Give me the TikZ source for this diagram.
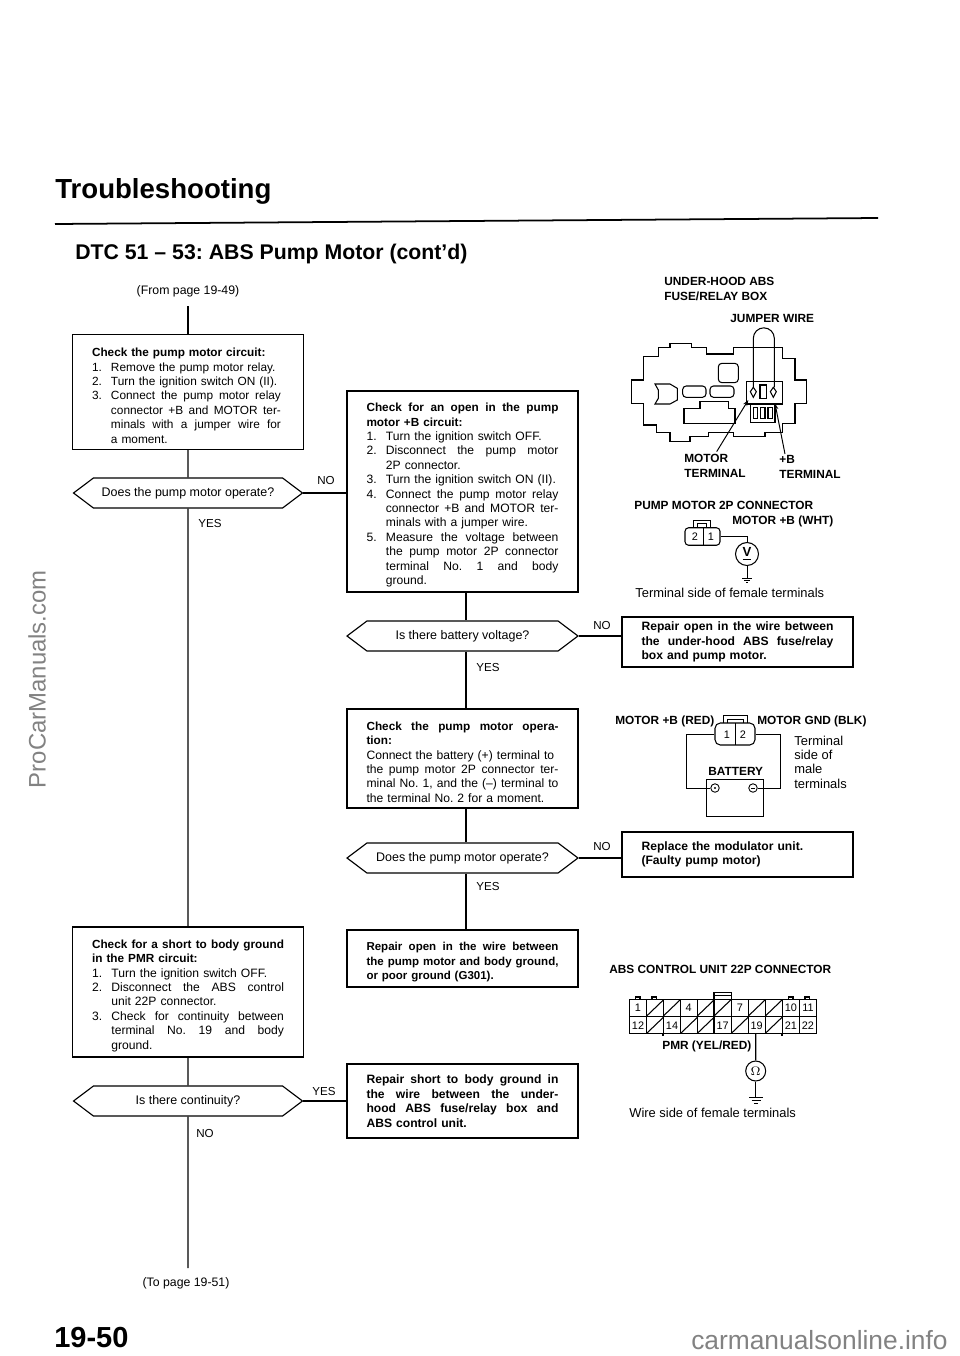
\documentclass[tikz,border=0pt]{standalone}
\usepackage{fontspec}
\setmainfont{Liberation Sans}
\usetikzlibrary{shapes.symbols, arrows.meta, positioning, calc}
\definecolor{markgray}{RGB}{130,130,130}
\newcommand{\hd}[1]{{\fontsize{6.7}{8.2}\selectfont\bfseries #1}}
\newcommand{\fillsp}{\spaceskip=.278em plus 1fil\relax}
\newcommand{\jl}[1]{\makebox[3.84cm][s]{\fillsp #1}}
\newcommand{\ns}[1]{\makebox[1.6em][l]{#1}}
\newcommand{\jn}[2]{\ns{#1}\makebox[\dimexpr3.84cm-1.6em][s]{\fillsp #2}}
\newcommand{\ji}[1]{\hspace*{1.6em}\makebox[\dimexpr3.84cm-1.6em][s]{\fillsp #1}}
\newcommand{\jk}[1]{\makebox[3.4cm][s]{\fillsp #1}}
\newcommand{\ii}{\hspace*{1.6em}}

\begin{document}
\frenchspacing
\begin{tikzpicture}[x=0.02cm, y=-0.02cm,
    bodytext/.style={font=\fontsize{6.9}{8.2}\selectfont},
    stepbox/.style={rectangle, draw, line width=0.7pt, text width=3.84cm, inner xsep=0.39cm, inner ysep=0pt, align=left, bodytext},
    fixbox/.style={stepbox, font=\fontsize{6.9}{8.3}\selectfont\bfseries},
    lowtext/.style={execute at begin node={\rule{0pt}{9pt}}},
    askbox/.style={signal, signal to=east and west, signal pointer angle=74, draw, line width=0.65pt, inner sep=0pt, minimum width=4.58cm, minimum height=0.6cm, font=\fontsize{7.1}{8.2}\selectfont},
    answer/.style={font=\fontsize{6.6}{8}\selectfont, inner sep=0pt, anchor=west},
    part/.style={font=\fontsize{6.75}{8.4}\selectfont\bfseries, inner sep=0pt, anchor=west, align=left},
    note/.style={font=\fontsize{7.35}{8.2}\selectfont, inner sep=0pt, anchor=west, align=left},
    pin/.style={font=\fontsize{6.2}{7}\selectfont, inner sep=0pt},
    meter/.style={circle, draw, line width=0.6pt, inner sep=0pt, minimum size=0.46cm, font=\fontsize{7.5}{8}\selectfont\bfseries},
    flow/.style={line width=0.6pt},
    wire/.style={line width=0.55pt},
    lead/.style={line width=0.55pt, -{Stealth[length=3.5pt, width=2.5pt]}},
    pagemark/.style={markgray, inner sep=0pt, font=\fontsize{15}{16}\selectfont}
]
    \useasboundingbox (0,0) rectangle (960,1356);

    % Heading
    \node[inner sep=0pt, anchor=west, font=\fontsize{15.7}{17}\selectfont\bfseries] (title) at (55,191) {Troubleshooting};
    \draw[line width=1pt] (55,224) -- (878,218);
    \node[inner sep=0pt, anchor=west, font=\fontsize{12.1}{14}\selectfont\bfseries] (dtc) at (75,254) {DTC 51 -- 53: ABS Pump Motor (cont'd)};
    \node[font=\fontsize{7}{8}\selectfont, inner sep=0pt] (frompage) at (188,291) {(From page 19-49)};
    \coordinate (fromend) at (188,306);

    % Left column
    \node[stepbox, lowtext, minimum height=2.3cm, font=\fontsize{6.75}{8.2}\selectfont] (pumpcheck) at (188,392) {%
        \hd{Check the pump motor circuit:}\\
        \ns{1.}Remove the pump motor relay.\\
        \ns{2.}Turn the ignition switch ON (II).\\
        \ns{3.}\jk{Connect the pump motor relay}\\
        \ii\jk{connector +B and MOTOR ter-}\\
        \ii\jk{minals with a jumper wire for}\\
        \ii a moment.};
    \node[askbox] (pumpask) at (188,493) {Does the pump motor operate?};
    \node[stepbox, lowtext, minimum height=2.6cm] (shortcheck) at (188,992) {%
        \jl{\hd{Check for a short to body ground}}\\
        \hd{in the PMR circuit:}\\
        \ns{1.}Turn the ignition switch OFF.\\
        \jn{2.}{Disconnect the ABS control}\\
        \ii unit 22P connector.\\
        \jn{3.}{Check for continuity between}\\
        \ji{terminal No. 19 and body}\\
        \ii ground.};
    \node[askbox] (contask) at (188,1101) {Is there continuity?};
    \coordinate (toend) at (188,1268);
    \node[font=\fontsize{7}{8}\selectfont, inner sep=0pt] (topage) at (186,1283) {(To page 19-51)};

    % Middle column
    \node[stepbox, lowtext, minimum height=4.02cm] (opencheck) at (462.5,491.5) {%
        \jl{\hd{Check for an open in the pump}}\\
        \hd{motor +B circuit:}\\
        \ns{1.}Turn the ignition switch OFF.\\
        \jn{2.}{Disconnect the pump motor}\\
        \ii 2P connector.\\
        \ns{3.}Turn the ignition switch ON (II).\\
        \jn{4.}{Connect the pump motor relay}\\
        \ji{connector +B and MOTOR ter-}\\
        \ii minals with a jumper wire.\\
        \jn{5.}{Measure the voltage between}\\
        \ji{the pump motor 2P connector}\\
        \ji{terminal No. 1 and body}\\
        \ii ground.};
    \node[askbox, minimum width=4.62cm] (voltask) at (462.5,636) {Is there battery voltage?};
    \node[stepbox, lowtext, minimum height=1.98cm] (opercheck) at (462.5,758.5) {%
        \jl{\hd{Check the pump motor opera-}}\\
        \hd{tion:}\\
        Connect the battery (+) terminal to\\
        \jl{the pump motor 2P connector ter-}\\
        \jl{minal No. 1, and the (--) terminal to}\\
        the terminal No. 2 for a moment.};
    \node[askbox, minimum width=4.62cm] (operask) at (462.5,858) {Does the pump motor operate?};
    \node[fixbox, lowtext, minimum height=1.14cm, font=\fontsize{6.55}{8.3}\selectfont\bfseries] (openrepair) at (462.5,958.5) {%
        \jl{Repair open in the wire between}\\
        \jl{the pump motor and body ground,}\\
        or poor ground (G301).};
    \node[fixbox, minimum height=1.48cm] (shortrepair) at (462.5,1101) {%
        \jl{Repair short to body ground in}\\
        \jl{the wire between the under-}\\
        \jl{hood ABS fuse/relay box and}\\
        ABS control unit.};

    % Right column
    \node[fixbox, minimum height=1cm] (wirerepair) at (737.5,642) {%
        \jl{Repair open in the wire between}\\
        \jl{the under-hood ABS fuse/relay}\\
        box and pump motor.};
    \node[fixbox, minimum height=0.9cm] (replace) at (737.5,854.5) {%
        Replace the modulator unit.\\
        (Faulty pump motor)};

    % Flow
    \draw[flow] (fromend) -- (pumpcheck);
    \draw[flow] (pumpcheck) -- (pumpask);
    \draw[flow] (pumpask) -- (shortcheck);
    \draw[flow] (shortcheck) -- (contask);
    \draw[flow] (contask) -- (toend);
    \draw[flow] (pumpask.east) -- (opencheck.west |- pumpask.east);
    \draw[flow] (contask.east) -- (shortrepair.west |- contask.east);
    \coordinate (midline) at (466,0);
    \draw[flow] (opencheck.south -| midline) -- (voltask.north -| midline);
    \draw[flow] (voltask.south -| midline) -- (opercheck.north -| midline);
    \draw[flow] (opercheck.south -| midline) -- (operask.north -| midline);
    \draw[flow] (operask.south -| midline) -- (openrepair.north -| midline);
    \draw[flow] (voltask.east) -- (wirerepair.west |- voltask.east);
    \draw[flow] (operask.east) -- (replace.west |- operask.east);

    % Answers
    \node[answer] (no1) at (317,481) {NO};
    \node[answer] (yes1) at (198,524) {YES};
    \node[answer] (no2) at (593,625) {NO};
    \node[answer] (yes2) at (476,667) {YES};
    \node[answer] (no3) at (593,846) {NO};
    \node[answer] (yes3) at (476,886) {YES};
    \node[answer] (yes4) at (312,1091) {YES};
    \node[answer] (no4) at (196,1133) {NO};

    % Fuse box
    \node[part] (boxname) at (664,289) {UNDER-HOOD ABS\\FUSE/RELAY BOX};
    \node[part] (jumpname) at (730,318) {JUMPER WIRE};
    \begin{scope}[shift={(590,260)}, x=0.00667cm, y=-0.00667cm, line width=0.6pt]
        \draw (125,360) -- (160,360) -- (160,290) -- (205,290) -- (205,262) -- (240,262) -- (240,250) -- (305,250) -- (305,262) -- (350,262) -- (350,282) -- (430,282) -- (430,262) -- (578,262) -- (578,295) -- (615,295) -- (615,360) -- (650,360) -- (650,430) -- (615,430) -- (615,490) -- (578,490) -- (578,518) -- (525,518) -- (525,530) -- (430,530) -- (430,518) -- (355,518) -- (355,530) -- (300,530) -- (300,545) -- (240,545) -- (240,518) -- (200,518) -- (200,495) -- (160,495) -- (160,430) -- (125,430) -- cycle;
        \draw (195,372) -- (240,372) -- (262,385) -- (262,420) -- (240,432) -- (195,432) -- (205,415) -- (205,390) -- cycle;
        \draw[rounded corners=2pt] (278,378) rectangle (348,412);
        \draw[rounded corners=2pt] (360,378) rectangle (432,412);
        \draw[rounded corners=2pt] (385,310) rectangle (445,368);
        \draw (282,445) -- (330,445) -- (330,425) -- (415,425) -- (415,445) -- (435,445) -- (435,490) -- (282,490) -- cycle;
        \draw (482,432) -- (470,432) -- (470,365) -- (578,365) -- (578,432) -- (555,432);
        \draw (482,432) rectangle (555,487);
        \draw[line width=0.9pt] (490,442) rectangle (503,475) (512,442) rectangle (525,475) (534,442) rectangle (547,475);
        \draw (510,375) rectangle (530,415);
        \draw (490,382) -- (499,395) -- (490,412) -- (481,395) -- cycle;
        \draw (550,382) -- (559,395) -- (550,412) -- (541,395) -- cycle;
        \draw (490,382) -- (490,235) arc[start angle=180, end angle=360, radius=31.5] -- (553,382);
        \coordinate (motorend) at (475,420);
        \coordinate (bend) at (555,430);
        \coordinate (motorfoot) at (380,575);
        \coordinate (bfoot) at (585,582);
    \end{scope}
    \draw[lead] (motorfoot) -- (motorend);
    \draw[lead] (bfoot) -- (bend);
    \node[part] (motorterm) at (684,466) {MOTOR\\TERMINAL};
    \node[part] (bterm) at (779,467) {+B\\TERMINAL};

    % Pump motor connector
    \node[part] (pumpname) at (634,505) {PUMP MOTOR 2P CONNECTOR};
    \node[part] (pumpwht) at (732,521) {MOTOR +B (WHT)};
    \node[rectangle, draw, rounded corners=2pt, line width=0.6pt, minimum width=0.7cm, minimum height=0.35cm, inner sep=0pt] (femconn) at (702.5,536.5) {};
    \draw[wire] (693,527.7) -- (693,520) -- (710,520) -- (710,527.7);
    \draw[wire] (697,527.7) -- (697,523) -- (706,523) -- (706,527.7);
    \draw[wire] (703,527.7) -- (703,545.2);
    \node[pin] (fem2) at (695,536.5) {2};
    \node[pin] (fem1) at (711,536.5) {1};
    \node[meter] (vmeter) at (747,554) {\underline{V}};
    \coordinate (vground) at (747,578);
    \draw[wire] (femconn.east) -| (vmeter.north);
    \draw[wire] (vmeter.south) -- (vground);
    \draw[wire] (742,578) -- (752,578) (744,580) -- (750,580) (746,582) -- (748,582);
    \node[note] (femnote) at (635,593) {Terminal side of female terminals};

    % Battery connector
    \node[part] (motorred) at (615,721) {MOTOR +B (RED)};
    \node[part] (motorblk) at (757,721) {MOTOR GND (BLK)};
    \node[rectangle, draw, rounded corners=3pt, line width=0.6pt, minimum width=0.8cm, minimum height=0.44cm, inner sep=0pt] (maleconn) at (735,734) {};
    \draw[wire] (723,723) -- (723,715) -- (747,715) -- (747,723);
    \draw[wire] (727,723) -- (727,719) -- (743,719) -- (743,723);
    \draw[wire] (735,723) -- (735,745);
    \node[pin] (male1) at (727,735) {1};
    \node[pin] (male2) at (743,735) {2};
    \node[rectangle, draw, line width=0.6pt, minimum width=1.15cm, minimum height=0.75cm, inner sep=0pt] (battbox) at (735,798) {};
    \node[part] (battname) at (708,771) {BATTERY};
    \node[circle, draw, line width=0.5pt, minimum size=0.17cm, inner sep=0pt] (battplus) at (715,788) {};
    \node[circle, draw, line width=0.5pt, minimum size=0.17cm, inner sep=0pt] (battminus) at (753,788) {};
    \fill (battplus) circle (0.6pt);
    \draw[line width=0.4pt] ($(battminus)+(-2,0)$) -- ($(battminus)+(2,0)$);
    \draw[wire] (maleconn.west) -- ++(-28,0) |- (battplus.west);
    \draw[wire] (maleconn.east) -- ++(25,0) |- (battminus.east);
    \node[note] (malenote) at (794,762) {Terminal\\side of\\male\\terminals};

    % Control unit connector
    \node[part] (ctrlname) at (609,969) {ABS CONTROL UNIT 22P CONNECTOR};
    \begin{scope}[shift={(590,950)}, x=0.00667cm, y=-0.00667cm, line width=0.6pt]
        \draw (118,148) rectangle (680,250) (118,200) -- (680,200);
        \foreach \xcut in {170,220,272,322,372,424,475,526,577,628}
            \draw (\xcut,148) -- (\xcut,250);
        \foreach \xslash/\yslash in {170/148,220/148,322/148,372/148,475/148,526/148,170/200,272/200,322/200,424/200,526/200}
            \draw (\xslash,\yslash+50) -- (\xslash+50,\yslash+2);
        \foreach \xpin/\ypin/\tpin in {144/174/1,296/174/4,450/174/7,603/174/10,654/174/11,144/226/12,246/226/14,398/226/17,500/226/19,603/226/21,654/226/22}
            \node[pin] at (\xpin,\ypin) {\tpin};
        \draw (372,148) -- (372,128) -- (424,128) -- (424,148) (372,136) -- (424,136);
        \foreach \xtab in {143,193,602,652}
            \draw (\xtab-7,148) -- (\xtab-7,141) -- (\xtab+7,141) -- (\xtab+7,148);
        \draw[line width=1pt] (218,250) -- (218,258) (577,250) -- (577,258);
        \coordinate (pin19) at (497,250);
    \end{scope}
    \node[part] (pmrname) at (662,1046) {PMR (YEL/RED)};
    \node[meter, minimum size=0.4cm] (ohmmeter) at (755.7,1071) {$\Omega$};
    \coordinate (oground) at (755.7,1097);
    \draw[wire, line width=0.7pt] (pin19) -- (ohmmeter.north);
    \draw[wire, line width=0.7pt] (ohmmeter.south) -- (oground);
    \draw[wire] (749,1097) -- (763,1097) (751.5,1100) -- (760.5,1100) (754,1103) -- (758,1103);
    \node[note] (wirenote) at (629,1113) {Wire side of female terminals};

    % Page marks
    \node[inner sep=0pt, anchor=west, font=\fontsize{16.5}{18}\selectfont\bfseries] (pagenum) at (54,1338) {19-50};
    \node[pagemark, anchor=east] (sitemark) at (948,1340) {carmanualsonline.info};
    \node[pagemark, anchor=east, rotate=90, font=\fontsize{13.6}{15}\selectfont] (procar) at (37,570) {ProCarManuals.com};
\end{tikzpicture}
\end{document}
